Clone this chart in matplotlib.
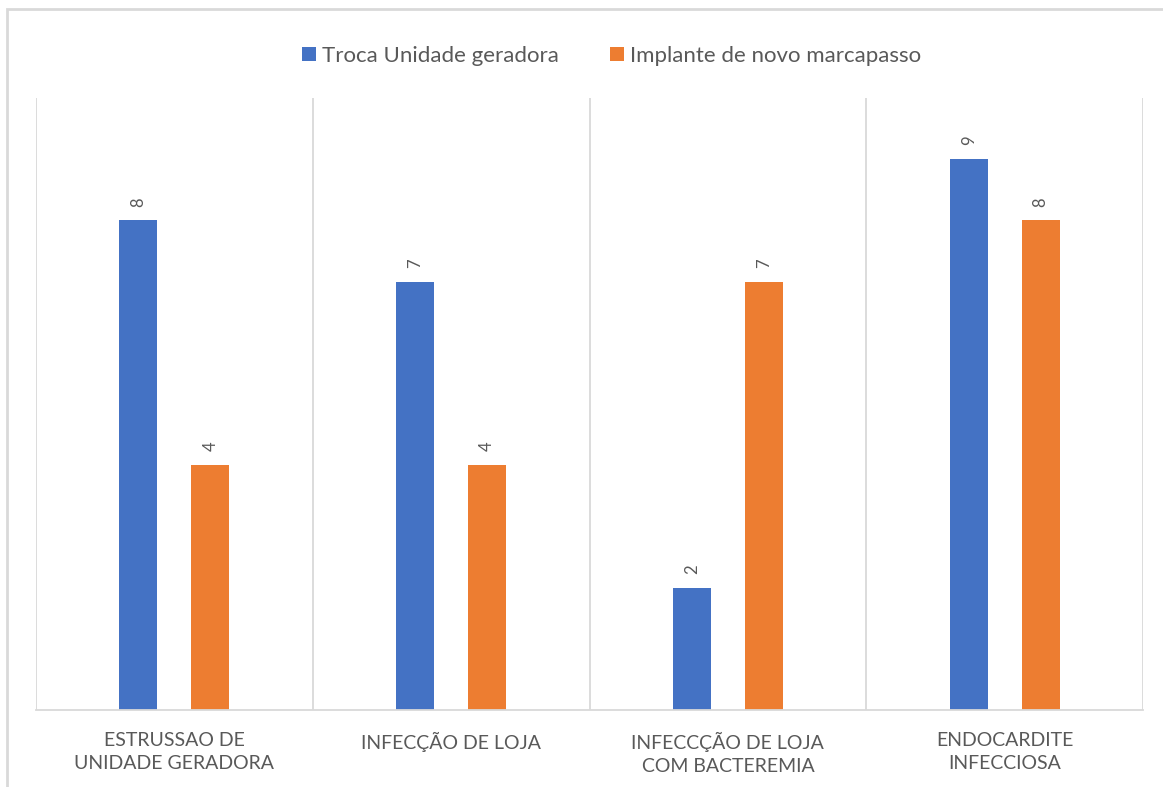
import matplotlib.pyplot as plt
import matplotlib.patches as patches
import numpy as np

plt.rcParams['font.family'] = ['Lato', 'DejaVu Sans']

categories = ["ESTRUSSAO DE\nUNIDADE GERADORA", "INFECÇÃO DE LOJA",
              "INFECCÇÃO DE LOJA\nCOM BACTEREMIA", "ENDOCARDITE\nINFECCIOSA"]
troca = [8, 7, 2, 9]
implante = [4, 4, 7, 8]
series_names = ["Troca Unidade geradora", "Implante de novo marcapasso"]

blue = "#4472C4"
orange = "#ED7D31"
grid_c = "#D9D9D9"
text_c = "#595959"

fig = plt.figure(figsize=(11.63, 7.87), dpi=100)
ax = fig.add_axes([36 / 1163, 77 / 787, 1107 / 1163, 612 / 787])

# chart border (right/bottom edges fall outside the image)
fig.add_artist(patches.Rectangle((7 / 1163, -0.05), 1.2, 1 - 9 / 787 + 0.05,
                                 transform=fig.transFigure, fill=False,
                                 edgecolor=grid_c, linewidth=2))

x = np.arange(len(categories))
w = 0.137
off = 0.13
b1 = ax.bar(x - off, troca, w, color=blue, label=series_names[0])
b2 = ax.bar(x + off, implante, w, color=orange, label=series_names[1])

for bars in (b1, b2):
    for rect in bars:
        h = rect.get_height()
        ax.annotate(f"{h:g}", (rect.get_x() + rect.get_width() / 2, h),
                    xytext=(0, 10), textcoords="offset points",
                    ha="center", va="bottom", rotation=90,
                    fontsize=12, color=text_c)

ax.set_xlim(-0.5, len(categories) - 0.5)
ax.set_ylim(0, 10)
for b in np.arange(-0.5, len(categories), 1.0):
    ax.axvline(b, color=grid_c, linewidth=1.3, zorder=0)

for s in ["top", "right", "left"]:
    ax.spines[s].set_visible(False)
ax.spines["bottom"].set_color(grid_c)
ax.spines["bottom"].set_linewidth(1.3)
ax.set_yticks([])
ax.set_xticks(x)
ax.set_xticklabels(categories, fontsize=14, color=text_c, linespacing=1.4)
ax.tick_params(axis="x", length=0, pad=16)

ax.legend(loc="center", bbox_to_anchor=(612 / 1163, 1 - 56 / 787),
          bbox_transform=fig.transFigure, ncol=2, frameon=False,
          fontsize=16, labelcolor=text_c, handlelength=0.6, handleheight=0.6,
          handletextpad=0.3, columnspacing=2.3)

fig.savefig("out.png", dpi=100)
